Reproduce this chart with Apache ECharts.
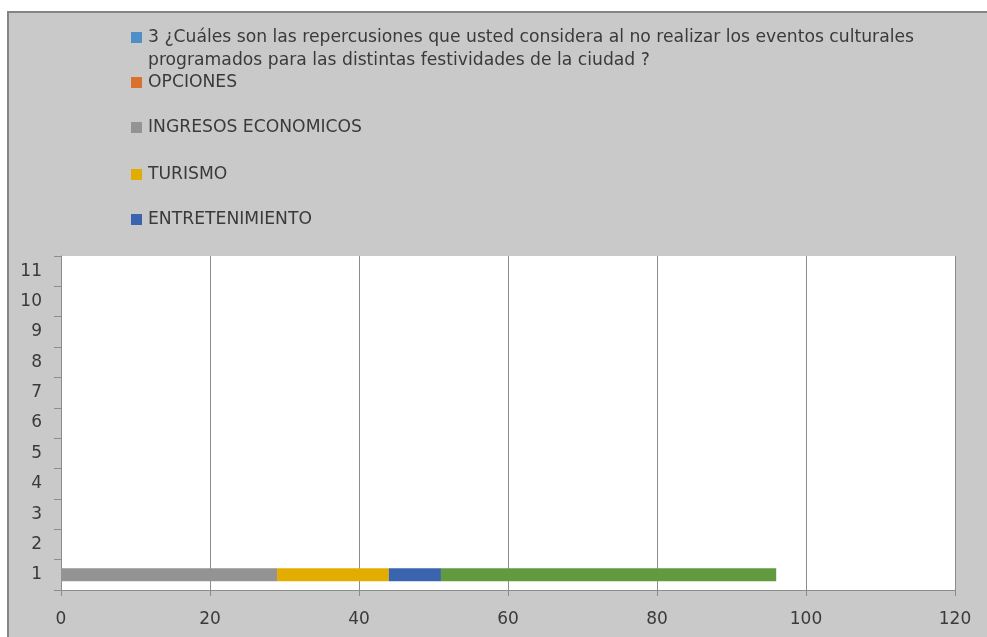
<!DOCTYPE html>
<html>
<head>
<meta charset="utf-8">
<title>Repercusiones</title>
<script src="https://cdn.jsdelivr.net/npm/echarts@6/dist/echarts.min.js"></script>
<style>
  html, body { margin: 0; padding: 0; background: #ffffff; }
  #chart { width: 987px; height: 637px; }
</style>
</head>
<body>
<div id="chart"></div>
<script>
// Category labels on the vertical axis
const categories = ['1', '2', '3', '4', '5', '6', '7', '8', '9', '10', '11'];

// Series names
const questionName = '3 ¿Cuáles son las repercusiones que usted considera al no realizar los eventos culturales\nprogramados para las distintas festividades de la ciudad ?';
const optionsName = 'OPCIONES';
const incomeName = 'INGRESOS ECONOMICOS';
const tourismName = 'TURISMO';
const entertainmentName = 'ENTRETENIMIENTO';
const otherName = 'OTROS';

// Values per category (only category 1 carries data)
const questionValues = [];
const optionsValues = [];
const incomeValues = [29];
const tourismValues = [15];
const entertainmentValues = [7];
const otherValues = [45];

// Horizontal axis range
const xMin = 0;
const xMax = 120;
const xStep = 20;

const textColor = '#3a3a3a';
const font = 'DejaVu Sans';
const legendFontSize = 17.2;
const axisFontSize = 17;

const chart = echarts.init(document.getElementById('chart'), null, { renderer: 'canvas' });

const questionLine2 = questionName.split('\n')[1];

function legendAt(name, top) {
  return {
    orient: 'vertical',
    left: 131,
    top: top,
    padding: 0,
    itemWidth: 11,
    itemHeight: 11,
    itemGap: 0,
    selectedMode: false,
    icon: 'rect',
    data: [name],
    formatter: n => n.split('\n')[0],
    textStyle: { color: textColor, fontFamily: font, fontSize: legendFontSize, lineHeight: 16, padding: [0, 0, 0, 1] }
  };
}

function barSeries(name, values, color) {
  return {
    name: name,
    type: 'bar',
    stack: 'total',
    barWidth: 13,
    data: values,
    itemStyle: { color: color },
    emphasis: { disabled: true }
  };
}

const option = {
  backgroundColor: '#ffffff',
  animation: false,
  graphic: [
    {
      type: 'rect',
      z: -10,
      shape: { x: 8, y: 12, width: 1000, height: 650 },
      style: { fill: '#c9c9c9', stroke: '#858585', lineWidth: 2 }
    },
    {
      type: 'text',
      left: 148,
      top: 52,
      style: { text: questionLine2, fill: textColor, font: legendFontSize + 'px "' + font + '"' }
    }
  ],
  legend: [
    legendAt(questionName, 29),
    legendAt(optionsName, 74),
    legendAt(incomeName, 119),
    legendAt(tourismName, 166),
    legendAt(entertainmentName, 211)
  ],
  grid: {
    left: 61,
    right: 32,
    top: 256,
    bottom: 47,
    show: true,
    backgroundColor: '#ffffff',
    borderWidth: 0
  },
  xAxis: {
    type: 'value',
    min: xMin,
    max: xMax,
    interval: xStep,
    axisLine: { show: true, lineStyle: { color: '#8c8c8c', width: 1 } },
    axisTick: { show: true, length: 6, lineStyle: { color: '#8c8c8c' } },
    splitLine: { show: true, lineStyle: { color: '#8c8c8c', width: 1 } },
    axisLabel: { color: textColor, fontFamily: font, fontSize: axisFontSize, margin: 21 }
  },
  yAxis: {
    type: 'category',
    data: categories,
    boundaryGap: true,
    axisLine: { show: true, lineStyle: { color: '#8c8c8c', width: 1 } },
    axisTick: { show: true, length: 7, alignWithLabel: false, lineStyle: { color: '#8c8c8c' } },
    splitLine: { show: false },
    axisLabel: { color: textColor, fontFamily: font, fontSize: axisFontSize, margin: 19 }
  },
  series: [
    barSeries(questionName, questionValues, '#4f8fc8'),
    barSeries(optionsName, optionsValues, '#d9702c'),
    barSeries(incomeName, incomeValues, '#939393'),
    barSeries(tourismName, tourismValues, '#e3ac00'),
    barSeries(entertainmentName, entertainmentValues, '#3b64ae'),
    barSeries(otherName, otherValues, '#629b3f')
  ]
};

chart.setOption(option);
</script>
</body>
</html>
